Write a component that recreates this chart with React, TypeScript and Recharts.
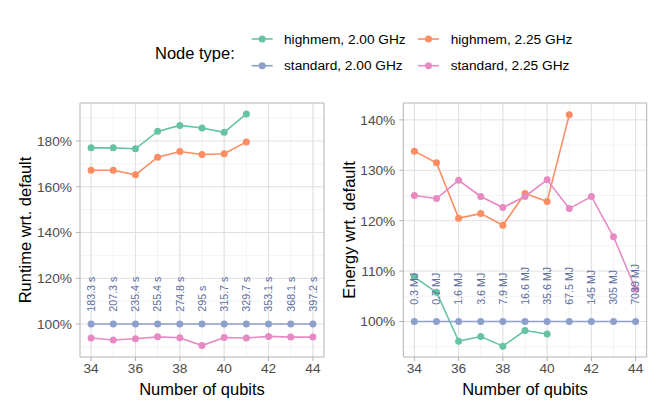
import React from 'react';
import { LineChart, Line, XAxis, YAxis, CartesianGrid, LabelList, ReferenceArea } from 'recharts';

const QUBITS = [34, 35, 36, 37, 38, 39, 40, 41, 42, 43, 44];

const RUNTIME_HM_200 = [177.0, 177.0, 176.6, 184.2, 186.8, 185.7, 183.8, 191.8, null, null, null];
const RUNTIME_HM_225 = [167.2, 167.2, 165.2, 172.9, 175.4, 174.1, 174.4, 179.6, null, null, null];
const RUNTIME_ST_200 = [100, 100, 100, 100, 100, 100, 100, 100, 100, 100, 100];
const RUNTIME_ST_225 = [93.9, 93.0, 93.6, 94.4, 94.0, 90.6, 94.1, 93.9, 94.6, 94.3, 94.3];

const ENERGY_HM_200 = [108.8, 105.8, 96.1, 97.0, 95.1, 98.2, 97.5, null, null, null, null];
const ENERGY_HM_225 = [133.8, 131.5, 120.5, 121.4, 119.1, 125.4, 123.8, 141.0, null, null, null];
const ENERGY_ST_200 = [100, 100, 100, 100, 100, 100, 100, 100, 100, 100, 100];
const ENERGY_ST_225 = [125.0, 124.4, 128.0, 124.8, 122.6, 124.8, 128.1, 122.4, 124.8, 116.8, 106.4];

const RUNTIME_LABELS = ['183.3 s', '207.3 s', '235.4 s', '255.4 s', '274.8 s', '295 s', '315.7 s', '329.7 s', '353.1 s', '368.1 s', '397.2 s'];
const ENERGY_LABELS = ['0.3 MJ', '0.7 MJ', '1.6 MJ', '3.6 MJ', '7.9 MJ', '16.6 MJ', '35.6 MJ', '67.5 MJ', '145 MJ', '305 MJ', '7039 MJ'];

const RUNTIME_LABEL_LEVEL = 105.4;
const ENERGY_LABEL_LEVEL = 103.3;

const X_TICKS = [34, 36, 38, 40, 42, 44];
const X_MINOR = [34, 35, 36, 37, 38, 39, 40, 41, 42, 43, 44];
const RUNTIME_TICKS = [100, 120, 140, 160, 180];
const RUNTIME_MINOR = [90, 110, 130, 150, 170, 190];
const ENERGY_TICKS = [100, 110, 120, 130, 140];
const ENERGY_MINOR = [95, 105, 115, 125, 135];

const X_DOMAIN: [number, number] = [33.5, 44.5];
const RUNTIME_DOMAIN: [number, number] = [85.6, 196.6];
const ENERGY_DOMAIN: [number, number] = [92.95, 143.35];

const SERIES = [
  { key: 'hm200', name: 'highmem, 2.00 GHz', color: '#66C2A5' },
  { key: 'hm225', name: 'highmem, 2.25 GHz', color: '#FC8D62' },
  { key: 'st200', name: 'standard, 2.00 GHz', color: '#8DA0CB' },
  { key: 'st225', name: 'standard, 2.25 GHz', color: '#E78AC3' },
];

const runtimeData = QUBITS.map((q, i) => ({
  q,
  hm200: RUNTIME_HM_200[i],
  hm225: RUNTIME_HM_225[i],
  st200: RUNTIME_ST_200[i],
  st225: RUNTIME_ST_225[i],
  labelPos: RUNTIME_LABEL_LEVEL,
  label: RUNTIME_LABELS[i],
}));

const energyData = QUBITS.map((q, i) => ({
  q,
  hm200: ENERGY_HM_200[i],
  hm225: ENERGY_HM_225[i],
  st200: ENERGY_ST_200[i],
  st225: ENERGY_ST_225[i],
  labelPos: ENERGY_LABEL_LEVEL,
  label: ENERGY_LABELS[i],
}));

const FONT = '"Liberation Sans", Arial, Helvetica, sans-serif';
const TICK_STYLE = { fill: '#4D4D4D', fontSize: 13.7, fontFamily: FONT };

const RotatedLabel = (props: any) => {
  const { x, y, value } = props;
  return (
    <text
      x={x}
      y={y}
      transform={`rotate(-90, ${x}, ${y})`}
      textAnchor="start"
      dy="0.36em"
      fontSize={10.7}
      fontFamily={FONT}
      fill="#5D6D9E"
    >
      {value}
    </text>
  );
};

function Panel({ data, yDomain, yTicks, yMinor, yWidth, marginRight }: any) {
  return (
    <LineChart
      width={332}
      height={415}
      data={data}
      margin={{ top: 103, right: marginRight, bottom: 0, left: 0 }}
    >
      <CartesianGrid
        stroke="#EBEBEB"
        strokeWidth={0.6}
        verticalValues={X_MINOR}
        horizontalValues={yMinor}
      />
      <CartesianGrid
        stroke="#E0E0E0"
        strokeWidth={1}
        verticalValues={X_TICKS}
        horizontalValues={yTicks}
      />
      <XAxis
        dataKey="q"
        type="number"
        domain={X_DOMAIN}
        ticks={X_TICKS}
        allowDataOverflow
        height={58}
        axisLine={false}
        tickLine={{ stroke: '#B3B3B3' }}
        tickSize={4}
        tickMargin={2}
        tick={TICK_STYLE}
        interval={0}
      />
      <YAxis
        type="number"
        domain={yDomain}
        ticks={yTicks}
        allowDataOverflow
        width={yWidth}
        axisLine={false}
        tickLine={{ stroke: '#B3B3B3' }}
        tickSize={4}
        tickMargin={4}
        tick={TICK_STYLE}
        tickFormatter={(v: number) => `${v}%`}
        interval={0}
      />
      <Line
        dataKey="labelPos"
        stroke="none"
        dot={false}
        activeDot={false}
        isAnimationActive={false}
      >
        <LabelList dataKey="label" content={RotatedLabel} />
      </Line>
      {SERIES.map((s) => (
        <Line
          key={s.key}
          type="linear"
          dataKey={s.key}
          stroke={s.color}
          strokeWidth={1.6}
          dot={{ r: 3.5, fill: s.color, stroke: 'none' }}
          activeDot={false}
          isAnimationActive={false}
        />
      ))}
      <ReferenceArea
        x1={X_DOMAIN[0]}
        x2={X_DOMAIN[1]}
        y1={yDomain[0]}
        y2={yDomain[1]}
        fill="none"
        stroke="#B3B3B3"
        strokeWidth={1}
        ifOverflow="visible"
      />
    </LineChart>
  );
}

export default function App() {
  const legendCols = [
    { sx: 251.7, tx: 284 },
    { sx: 418, tx: 450.7 },
  ];
  const legendRows = [39, 65.7];
  return (
    <div style={{ position: 'absolute', left: 0, top: 0, width: 664, height: 415, background: '#fff', fontFamily: FONT }}>
      <div style={{ position: 'absolute', left: 0, top: 0 }}>
        <Panel
          data={runtimeData}
          yDomain={RUNTIME_DOMAIN}
          yTicks={RUNTIME_TICKS}
          yMinor={RUNTIME_MINOR}
          yWidth={80}
          marginRight={8}
        />
      </div>
      <div style={{ position: 'absolute', left: 332, top: 0 }}>
        <Panel
          data={energyData}
          yDomain={ENERGY_DOMAIN}
          yTicks={ENERGY_TICKS}
          yMinor={ENERGY_MINOR}
          yWidth={71.3}
          marginRight={17.3}
        />
      </div>
      <svg
        width={664}
        height={415}
        style={{ position: 'absolute', left: 0, top: 0, pointerEvents: 'none' }}
      >
        <text x={155} y={58.5} fontSize={16.5} fontFamily={FONT} fill="#000">Node type:</text>
        {SERIES.map((s, i) => {
          const col = legendCols[i % 2];
          const cy = legendRows[Math.floor(i / 2)];
          return (
            <g key={s.key}>
              <line x1={col.sx} x2={col.sx + 21} y1={cy} y2={cy} stroke={s.color} strokeWidth={1.6} />
              <circle cx={col.sx + 10.5} cy={cy} r={3.5} fill={s.color} />
              <text x={col.tx} y={cy + 4.6} fontSize={13.7} fontFamily={FONT} fill="#000">{s.name}</text>
            </g>
          );
        })}
        <text x={31} y={230} transform="rotate(-90, 31, 230)" textAnchor="middle" fontSize={16.5} fontFamily={FONT} fill="#000">
          Runtime wrt. default
        </text>
        <text x={354.5} y={230} transform="rotate(-90, 354.5, 230)" textAnchor="middle" fontSize={16.5} fontFamily={FONT} fill="#000">
          Energy wrt. default
        </text>
        <text x={202} y={394.5} textAnchor="middle" fontSize={16.5} fontFamily={FONT} fill="#000">Number of qubits</text>
        <text x={525} y={394.5} textAnchor="middle" fontSize={16.5} fontFamily={FONT} fill="#000">Number of qubits</text>
      </svg>
    </div>
  );
}
